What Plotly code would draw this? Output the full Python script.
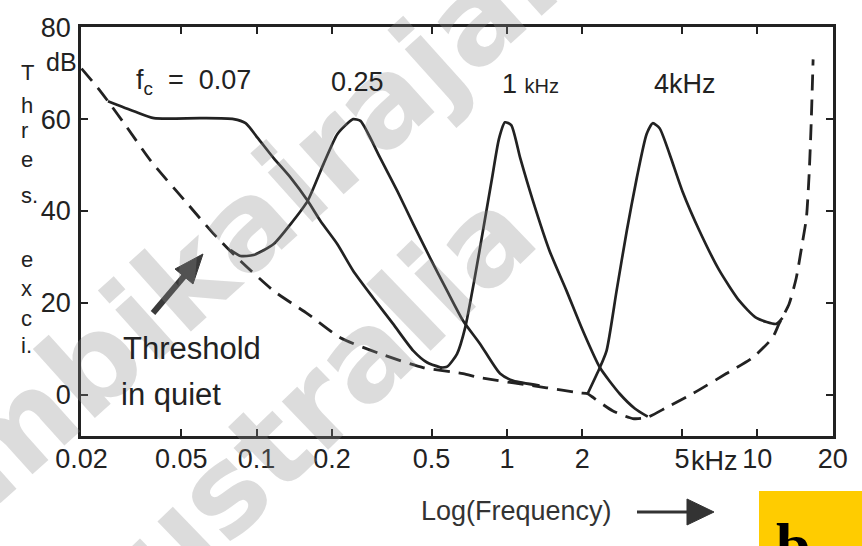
import numpy as np
import plotly.graph_objects as go

# Threshold in quiet (dashed), frequency in kHz, level in dB
quiet_khz = [0.02, 0.0233, 0.0255, 0.0301, 0.0378, 0.0531, 0.0674, 0.0863, 0.117, 0.160,
             0.216, 0.312, 0.462, 0.668, 0.780, 1.44, 1.95, 2.10, 2.18, 2.64, 3.18, 3.61,
             4.34, 5.51, 7.52, 9.55, 11.5, 12.2, 13.4, 14.3, 15.1, 15.7, 16.1, 16.4, 16.7]
quiet_db = [71, 66.7, 63.9, 58.5, 50.9, 41.5, 35.0, 29.1, 22.6, 17.6,
            12.4, 8.9, 5.9, 4.6, 3.7, 1.5, 0.4, 0.2, -0.4, -3.5, -5.2, -5.0,
            -2.8, 0.2, 4.6, 8.0, 12.4, 15.4, 19.8, 25.4, 32.8, 38.5, 48.0, 58.9, 73]

# Masked thresholds for maskers at fc = 0.07, 0.25, 1 and 4 kHz
mask_007_khz = [0.0255, 0.0324, 0.0389, 0.0598, 0.0810, 0.0904, 0.101, 0.117, 0.137, 0.160,
                0.180, 0.210, 0.243, 0.292, 0.351, 0.422, 0.480, 0.551]
mask_007_db = [63.9, 61.7, 60.2, 60.2, 60.0, 59.1, 55.9, 51.5, 47.2, 42.2,
               37.8, 32.8, 27.0, 21.1, 15.4, 9.6, 7.0, 5.8]

mask_025_khz = [0.0788, 0.0863, 0.0973, 0.117, 0.137, 0.160, 0.185, 0.210, 0.231, 0.243,
                0.260, 0.312, 0.365, 0.422, 0.493, 0.577, 0.668, 0.780, 0.938, 1.06, 1.35]
mask_025_db = [31.5, 30.2, 30.4, 32.8, 37.2, 42.2, 50.2, 56.7, 59.1, 60.0,
               59.6, 51.5, 44.3, 37.2, 29.8, 22.6, 16.1, 11.1, 4.6, 3.0, 2.0]

mask_1k_khz = [0.541, 0.577, 0.632, 0.681, 0.740, 0.802, 0.871, 0.929, 0.982, 1.04,
               1.13, 1.27, 1.48, 1.73, 2.01, 2.35, 2.82, 3.24, 3.65]
mask_1k_db = [5.9, 6.1, 8.9, 14.6, 24.8, 35.7, 47.0, 55.7, 59.3, 58.7,
              51.5, 42.2, 31.3, 22.6, 13.9, 5.9, 0.2, -3.0, -4.8]

mask_4k_khz = [2.10, 2.35, 2.50, 2.74, 3.01, 3.30, 3.61, 3.82, 4.07, 4.46,
               5.02, 5.87, 7.06, 8.48, 9.91, 11.9, 12.6]
mask_4k_db = [0.2, 5.9, 9.6, 22.6, 35.7, 47.2, 56.7, 59.1, 58.0, 52.4,
              44.3, 35.7, 27.0, 20.4, 16.7, 15.4, 16.7]

x_tickvals = [0.02, 0.05, 0.1, 0.2, 0.5, 1, 2, 5, 10, 20]
x_ticktext = ["0.02", "0.05", "0.1", "0.2", "0.5", "1", "2", "5", "10", "20"]
y_tickvals = [0, 20, 40, 60, 80]
y_ticktext = ["0", "20", "40", "60", "80"]

INK = "#222222"
SANS = "Liberation Sans, Arial, Helvetica, sans-serif"

fig = go.Figure()

fig.add_trace(go.Scatter(x=quiet_khz, y=quiet_db, mode="lines",
                         line=dict(color=INK, width=2.8, dash="16px,9px", shape="spline",
                                   smoothing=0.6),
                         hoverinfo="skip"))
for xs, ys in [(mask_007_khz, mask_007_db), (mask_025_khz, mask_025_db),
               (mask_1k_khz, mask_1k_db), (mask_4k_khz, mask_4k_db)]:
    fig.add_trace(go.Scatter(x=xs, y=ys, mode="lines",
                             line=dict(color=INK, width=2.7, shape="spline", smoothing=0.6),
                             hoverinfo="skip"))

axis_common = dict(ticks="inside", ticklen=7, tickwidth=2, tickcolor=INK,
                   showline=True, linewidth=2.6, linecolor=INK, mirror="ticks",
                   showgrid=False, zeroline=False)

fig.update_xaxes(type="log", range=[np.log10(0.0199), np.log10(20.05)],
                 tickvals=x_tickvals, ticktext=x_ticktext,
                 tickfont=dict(family=SANS, size=27, color=INK),
                 ticklabelstandoff=-3, **axis_common)
fig.update_yaxes(range=[-9, 80.05], tickvals=y_tickvals, ticktext=y_ticktext,
                 tickfont=dict(family=SANS, size=27, color=INK),
                 ticklabelstandoff=2, **axis_common)

W, H = 862, 546
ML, MR, MT, MB = 81, 29, 27, 110
PW, PH = W - ML - MR, H - MT - MB


def px(x):
    return (x - ML) / PW


def py(y):
    return (H - MB - y) / PH


ann = []

# watermark
wm = dict(showarrow=False, xref="paper", yref="paper", xanchor="center", yanchor="middle",
          font=dict(family="DejaVu Sans, sans-serif", size=122, color="rgba(140,140,140,0.30)"))
ann.append(dict(text="<b>Ambikairajah</b>", x=px(232), y=py(238), textangle=-42, **wm))
ann.append(dict(text="<b>Australia</b>", x=px(290), y=py(428), textangle=-44, **wm))

# unit above the y axis
ann.append(dict(text="dB", x=px(79), y=py(62), xref="paper", yref="paper",
                xanchor="right", yanchor="middle", showarrow=False,
                font=dict(family=SANS, size=25, color=INK)))

# stacked y-axis title
for ch, yy in [("T", 72), ("h", 105), ("r", 130), ("e", 159), ("s.", 195),
               ("e", 259), ("x", 288), ("c", 318), ("i.", 345)]:
    ann.append(dict(text=ch, x=px(19), y=py(yy), xref="paper", yref="paper",
                    xanchor="left", yanchor="middle", showarrow=False,
                    font=dict(family=SANS, size=22, color=INK)))

# masker labels
lab = dict(xref="paper", yref="paper", yanchor="middle", showarrow=False,
           font=dict(family=SANS, size=27, color=INK))
ann.append(dict(text="f<sub>c</sub>  =  0.07", x=px(134), y=py(82), xanchor="left", **lab))
ann.append(dict(text="0.25", x=px(357), y=py(82), xanchor="center", **lab))
ann.append(dict(text="1 <span style='font-size:20px'>kHz</span>", x=px(500), y=py(84),
                xanchor="left", **lab))
ann.append(dict(text="4kHz", x=px(652), y=py(84), xanchor="left", **lab))

# threshold in quiet note
ann.append(dict(text="Threshold", x=px(121), y=py(348), xref="paper", yref="paper",
                xanchor="left", yanchor="middle", showarrow=False,
                font=dict(family=SANS, size=31, color=INK)))
ann.append(dict(text="in quiet", x=px(119), y=py(394), xref="paper", yref="paper",
                xanchor="left", yanchor="middle", showarrow=False,
                font=dict(family=SANS, size=31, color=INK)))

# x-axis caption
ann.append(dict(text="kHz", x=np.log10(5), y=py(461), xref="x", yref="paper",
                xanchor="left", yanchor="middle", xshift=7, showarrow=False,
                font=dict(family=SANS, size=27, color=INK)))
ann.append(dict(text="Log(Frequency)", x=px(419), y=py(511), xref="paper", yref="paper",
                xanchor="left", yanchor="middle", showarrow=False,
                font=dict(family=SANS, size=27, color="#333333")))

# panel letter
ann.append(dict(text="<b>b</b>", x=px(793), y=py(509), xref="paper", yref="paper",
                xanchor="center", yanchor="top", showarrow=False,
                font=dict(family="Liberation Serif, Times New Roman, serif", size=62,
                          color="black")))


def path(points, close=False):
    s = "M " + " L ".join(f"{px(a):.5f},{py(b):.5f}" for a, b in points)
    return s + (" Z" if close else "")


ARROW = "#3a3a3a"
shapes = [
    # panel letter background
    dict(type="rect", xref="paper", yref="paper",
         x0=px(759), x1=px(870), y0=py(491), y1=py(560),
         fillcolor="#FFCC00", line=dict(width=0), layer="below"),
    # arrow pointing at the threshold in quiet
    dict(type="path", xref="paper", yref="paper",
         path=path([(153, 313), (186, 274)]), line=dict(color=ARROW, width=6)),
    dict(type="path", xref="paper", yref="paper",
         path=path([(203, 254), (193, 284), (175, 269)], close=True),
         fillcolor=ARROW, line=dict(color=ARROW, width=1)),
    # arrow after the x-axis caption
    dict(type="path", xref="paper", yref="paper",
         path=path([(637, 512), (690, 512)]), line=dict(color="#333333", width=3)),
    dict(type="path", xref="paper", yref="paper",
         path=path([(714, 512), (687, 499), (687, 525)], close=True),
         fillcolor="#333333", line=dict(color="#333333", width=1)),
]

fig.update_layout(
    width=W, height=H,
    margin=dict(l=ML, r=MR, t=MT, b=MB),
    paper_bgcolor="white", plot_bgcolor="white",
    showlegend=False,
    annotations=ann,
    shapes=shapes,
)

fig.write_html("out.html")
